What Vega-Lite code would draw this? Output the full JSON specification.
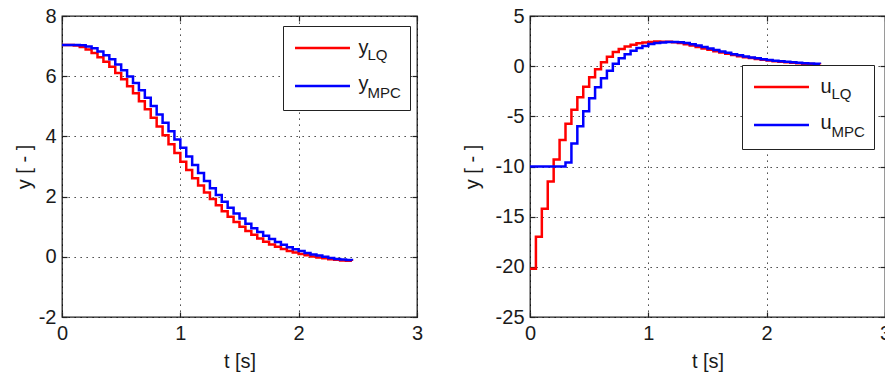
{
"$schema":"https://vega.github.io/schema/vega-lite/v6.json",
"background":"white",
"padding":{"left":13,"top":5,"right":0,"bottom":0},
"config":{
"font":"Liberation Sans",
"view":{"stroke":"#222","strokeWidth":1.3},
"axis":{"labelFont":"Liberation Sans","labelFontSize":20,"labelColor":"#1a1a1a","titleFont":"Liberation Sans","titleFontSize":20,"titleFontWeight":"normal","titleColor":"#1a1a1a","grid":true,"gridColor":"#000","gridDash":[1.3,4.7],"gridWidth":1,"gridOpacity":0.85,"domain":false,"ticks":true,"tickColor":"#222","tickWidth":1.2,"tickSize":-5,"labelFlush":false,"labelOverlap":false,"labelExpr":"'' + datum.value"},
"legend":{"labelFont":"Liberation Sans","labelColor":"#1a1a1a"}
},
"datasets":{"d":[
{"p":"y","s":"LQ","t":0,"v":7.04},{"p":"y","s":"LQ","t":0.05,"v":7.04},{"p":"y","s":"LQ","t":0.1,"v":7.02},{"p":"y","s":"LQ","t":0.15,"v":6.97},{"p":"y","s":"LQ","t":0.2,"v":6.89},{"p":"y","s":"LQ","t":0.25,"v":6.77},{"p":"y","s":"LQ","t":0.3,"v":6.63},{"p":"y","s":"LQ","t":0.35,"v":6.48},{"p":"y","s":"LQ","t":0.4,"v":6.31},{"p":"y","s":"LQ","t":0.45,"v":6.11},{"p":"y","s":"LQ","t":0.5,"v":5.9},{"p":"y","s":"LQ","t":0.55,"v":5.67},{"p":"y","s":"LQ","t":0.6,"v":5.43},{"p":"y","s":"LQ","t":0.65,"v":5.17},{"p":"y","s":"LQ","t":0.7,"v":4.9},{"p":"y","s":"LQ","t":0.75,"v":4.62},{"p":"y","s":"LQ","t":0.8,"v":4.33},{"p":"y","s":"LQ","t":0.85,"v":4.04},{"p":"y","s":"LQ","t":0.9,"v":3.74},{"p":"y","s":"LQ","t":0.95,"v":3.45},{"p":"y","s":"LQ","t":1,"v":3.16},{"p":"y","s":"LQ","t":1.05,"v":2.88},{"p":"y","s":"LQ","t":1.1,"v":2.61},{"p":"y","s":"LQ","t":1.15,"v":2.37},{"p":"y","s":"LQ","t":1.2,"v":2.14},{"p":"y","s":"LQ","t":1.25,"v":1.92},{"p":"y","s":"LQ","t":1.3,"v":1.71},{"p":"y","s":"LQ","t":1.35,"v":1.51},{"p":"y","s":"LQ","t":1.4,"v":1.33},{"p":"y","s":"LQ","t":1.45,"v":1.16},{"p":"y","s":"LQ","t":1.5,"v":1.0},{"p":"y","s":"LQ","t":1.55,"v":0.86},{"p":"y","s":"LQ","t":1.6,"v":0.73},{"p":"y","s":"LQ","t":1.65,"v":0.61},{"p":"y","s":"LQ","t":1.7,"v":0.5},{"p":"y","s":"LQ","t":1.75,"v":0.41},{"p":"y","s":"LQ","t":1.8,"v":0.33},{"p":"y","s":"LQ","t":1.85,"v":0.26},{"p":"y","s":"LQ","t":1.9,"v":0.19},{"p":"y","s":"LQ","t":1.95,"v":0.14},{"p":"y","s":"LQ","t":2,"v":0.09},{"p":"y","s":"LQ","t":2.05,"v":0.05},{"p":"y","s":"LQ","t":2.1,"v":0.01},{"p":"y","s":"LQ","t":2.15,"v":-0.02},{"p":"y","s":"LQ","t":2.2,"v":-0.05},{"p":"y","s":"LQ","t":2.25,"v":-0.08},{"p":"y","s":"LQ","t":2.3,"v":-0.1},{"p":"y","s":"LQ","t":2.35,"v":-0.12},{"p":"y","s":"LQ","t":2.4,"v":-0.13},{"p":"y","s":"LQ","t":2.45,"v":-0.14},
{"p":"y","s":"MPC","t":0,"v":7.04},{"p":"y","s":"MPC","t":0.05,"v":7.04},{"p":"y","s":"MPC","t":0.1,"v":7.04},{"p":"y","s":"MPC","t":0.15,"v":7.03},{"p":"y","s":"MPC","t":0.2,"v":6.99},{"p":"y","s":"MPC","t":0.25,"v":6.93},{"p":"y","s":"MPC","t":0.3,"v":6.82},{"p":"y","s":"MPC","t":0.35,"v":6.7},{"p":"y","s":"MPC","t":0.4,"v":6.56},{"p":"y","s":"MPC","t":0.45,"v":6.39},{"p":"y","s":"MPC","t":0.5,"v":6.2},{"p":"y","s":"MPC","t":0.55,"v":5.99},{"p":"y","s":"MPC","t":0.6,"v":5.77},{"p":"y","s":"MPC","t":0.65,"v":5.53},{"p":"y","s":"MPC","t":0.7,"v":5.28},{"p":"y","s":"MPC","t":0.75,"v":5.01},{"p":"y","s":"MPC","t":0.8,"v":4.73},{"p":"y","s":"MPC","t":0.85,"v":4.45},{"p":"y","s":"MPC","t":0.9,"v":4.17},{"p":"y","s":"MPC","t":0.95,"v":3.9},{"p":"y","s":"MPC","t":1,"v":3.62},{"p":"y","s":"MPC","t":1.05,"v":3.33},{"p":"y","s":"MPC","t":1.1,"v":3.05},{"p":"y","s":"MPC","t":1.15,"v":2.78},{"p":"y","s":"MPC","t":1.2,"v":2.52},{"p":"y","s":"MPC","t":1.25,"v":2.28},{"p":"y","s":"MPC","t":1.3,"v":2.05},{"p":"y","s":"MPC","t":1.35,"v":1.83},{"p":"y","s":"MPC","t":1.4,"v":1.63},{"p":"y","s":"MPC","t":1.45,"v":1.44},{"p":"y","s":"MPC","t":1.5,"v":1.27},{"p":"y","s":"MPC","t":1.55,"v":1.1},{"p":"y","s":"MPC","t":1.6,"v":0.95},{"p":"y","s":"MPC","t":1.65,"v":0.82},{"p":"y","s":"MPC","t":1.7,"v":0.7},{"p":"y","s":"MPC","t":1.75,"v":0.59},{"p":"y","s":"MPC","t":1.8,"v":0.49},{"p":"y","s":"MPC","t":1.85,"v":0.4},{"p":"y","s":"MPC","t":1.9,"v":0.32},{"p":"y","s":"MPC","t":1.95,"v":0.25},{"p":"y","s":"MPC","t":2,"v":0.19},{"p":"y","s":"MPC","t":2.05,"v":0.13},{"p":"y","s":"MPC","t":2.1,"v":0.08},{"p":"y","s":"MPC","t":2.15,"v":0.04},{"p":"y","s":"MPC","t":2.2,"v":0.0},{"p":"y","s":"MPC","t":2.25,"v":-0.04},{"p":"y","s":"MPC","t":2.3,"v":-0.07},{"p":"y","s":"MPC","t":2.35,"v":-0.09},{"p":"y","s":"MPC","t":2.4,"v":-0.11},{"p":"y","s":"MPC","t":2.45,"v":-0.12},
{"p":"u","s":"LQ","t":0,"v":-20.2},{"p":"u","s":"LQ","t":0.05,"v":-17.0},{"p":"u","s":"LQ","t":0.1,"v":-14.2},{"p":"u","s":"LQ","t":0.15,"v":-11.5},{"p":"u","s":"LQ","t":0.2,"v":-9.3},{"p":"u","s":"LQ","t":0.25,"v":-7.35},{"p":"u","s":"LQ","t":0.3,"v":-5.75},{"p":"u","s":"LQ","t":0.35,"v":-4.35},{"p":"u","s":"LQ","t":0.4,"v":-3.1},{"p":"u","s":"LQ","t":0.45,"v":-2.05},{"p":"u","s":"LQ","t":0.5,"v":-1.1},{"p":"u","s":"LQ","t":0.55,"v":-0.3},{"p":"u","s":"LQ","t":0.6,"v":0.4},{"p":"u","s":"LQ","t":0.65,"v":0.95},{"p":"u","s":"LQ","t":0.7,"v":1.4},{"p":"u","s":"LQ","t":0.75,"v":1.72},{"p":"u","s":"LQ","t":0.8,"v":1.97},{"p":"u","s":"LQ","t":0.85,"v":2.14},{"p":"u","s":"LQ","t":0.9,"v":2.28},{"p":"u","s":"LQ","t":0.95,"v":2.37},{"p":"u","s":"LQ","t":1,"v":2.42},{"p":"u","s":"LQ","t":1.05,"v":2.45},{"p":"u","s":"LQ","t":1.1,"v":2.44},{"p":"u","s":"LQ","t":1.15,"v":2.43},{"p":"u","s":"LQ","t":1.2,"v":2.38},{"p":"u","s":"LQ","t":1.25,"v":2.3},{"p":"u","s":"LQ","t":1.3,"v":2.19},{"p":"u","s":"LQ","t":1.35,"v":2.06},{"p":"u","s":"LQ","t":1.4,"v":1.92},{"p":"u","s":"LQ","t":1.45,"v":1.77},{"p":"u","s":"LQ","t":1.5,"v":1.63},{"p":"u","s":"LQ","t":1.55,"v":1.49},{"p":"u","s":"LQ","t":1.6,"v":1.36},{"p":"u","s":"LQ","t":1.65,"v":1.23},{"p":"u","s":"LQ","t":1.7,"v":1.11},{"p":"u","s":"LQ","t":1.75,"v":1.0},{"p":"u","s":"LQ","t":1.8,"v":0.9},{"p":"u","s":"LQ","t":1.85,"v":0.81},{"p":"u","s":"LQ","t":1.9,"v":0.72},{"p":"u","s":"LQ","t":1.95,"v":0.64},{"p":"u","s":"LQ","t":2,"v":0.57},{"p":"u","s":"LQ","t":2.05,"v":0.5},{"p":"u","s":"LQ","t":2.1,"v":0.44},{"p":"u","s":"LQ","t":2.15,"v":0.38},{"p":"u","s":"LQ","t":2.2,"v":0.33},{"p":"u","s":"LQ","t":2.25,"v":0.29},{"p":"u","s":"LQ","t":2.3,"v":0.25},{"p":"u","s":"LQ","t":2.35,"v":0.22},{"p":"u","s":"LQ","t":2.4,"v":0.19},{"p":"u","s":"LQ","t":2.45,"v":0.17},
{"p":"u","s":"MPC","t":0,"v":-10},{"p":"u","s":"MPC","t":0.05,"v":-10},{"p":"u","s":"MPC","t":0.1,"v":-10},{"p":"u","s":"MPC","t":0.15,"v":-10},{"p":"u","s":"MPC","t":0.2,"v":-10},{"p":"u","s":"MPC","t":0.25,"v":-10},{"p":"u","s":"MPC","t":0.3,"v":-9.6},{"p":"u","s":"MPC","t":0.35,"v":-7.7},{"p":"u","s":"MPC","t":0.4,"v":-6.0},{"p":"u","s":"MPC","t":0.45,"v":-4.5},{"p":"u","s":"MPC","t":0.5,"v":-3.2},{"p":"u","s":"MPC","t":0.55,"v":-2.1},{"p":"u","s":"MPC","t":0.6,"v":-1.2},{"p":"u","s":"MPC","t":0.65,"v":-0.45},{"p":"u","s":"MPC","t":0.7,"v":0.25},{"p":"u","s":"MPC","t":0.75,"v":0.78},{"p":"u","s":"MPC","t":0.8,"v":1.2},{"p":"u","s":"MPC","t":0.85,"v":1.54},{"p":"u","s":"MPC","t":0.9,"v":1.8},{"p":"u","s":"MPC","t":0.95,"v":2.02},{"p":"u","s":"MPC","t":1,"v":2.2},{"p":"u","s":"MPC","t":1.05,"v":2.31},{"p":"u","s":"MPC","t":1.1,"v":2.37},{"p":"u","s":"MPC","t":1.15,"v":2.41},{"p":"u","s":"MPC","t":1.2,"v":2.42},{"p":"u","s":"MPC","t":1.25,"v":2.38},{"p":"u","s":"MPC","t":1.3,"v":2.3},{"p":"u","s":"MPC","t":1.35,"v":2.19},{"p":"u","s":"MPC","t":1.4,"v":2.05},{"p":"u","s":"MPC","t":1.45,"v":1.9},{"p":"u","s":"MPC","t":1.5,"v":1.75},{"p":"u","s":"MPC","t":1.55,"v":1.6},{"p":"u","s":"MPC","t":1.6,"v":1.46},{"p":"u","s":"MPC","t":1.65,"v":1.33},{"p":"u","s":"MPC","t":1.7,"v":1.2},{"p":"u","s":"MPC","t":1.75,"v":1.08},{"p":"u","s":"MPC","t":1.8,"v":0.97},{"p":"u","s":"MPC","t":1.85,"v":0.87},{"p":"u","s":"MPC","t":1.9,"v":0.78},{"p":"u","s":"MPC","t":1.95,"v":0.7},{"p":"u","s":"MPC","t":2,"v":0.62},{"p":"u","s":"MPC","t":2.05,"v":0.55},{"p":"u","s":"MPC","t":2.1,"v":0.49},{"p":"u","s":"MPC","t":2.15,"v":0.43},{"p":"u","s":"MPC","t":2.2,"v":0.38},{"p":"u","s":"MPC","t":2.25,"v":0.34},{"p":"u","s":"MPC","t":2.3,"v":0.3},{"p":"u","s":"MPC","t":2.35,"v":0.27},{"p":"u","s":"MPC","t":2.4,"v":0.25},{"p":"u","s":"MPC","t":2.45,"v":0.23}
]},
"spacing":113,
"bounds":"flush",
"resolve":{"scale":{"x":"independent","y":"independent","color":"independent","opacity":"independent"},"legend":{"color":"independent","opacity":"independent"}},
"hconcat":[
{"width":355,"height":301,
"data":{"name":"d"},
"transform":[{"filter":"datum.p === 'y'"}],
"resolve":{"axis":{"x":"independent","y":"independent"}},
"layer":[
{"mark":{"type":"line","interpolate":"step-after","strokeWidth":2.5},
"encoding":{
"x":{"field":"t","type":"quantitative","scale":{"domain":[0,3],"nice":false},"axis":{"values":[0,1,2,3],"title":"t [s]","labelPadding":11,"titlePadding":8}},
"y":{"field":"v","type":"quantitative","scale":{"domain":[-2,8],"nice":false,"zero":false},"axis":{"values":[-2,0,2,4,6,8],"title":"y [ - ]","labelPadding":11,"titlePadding":4}},
"color":{"field":"s","type":"nominal","scale":{"domain":["LQ","MPC"],"range":["#ff0000","#0000ff"]},
 "legend":{"orient":"none","legendX":221,"legendY":10,"title":null,"fillColor":"white","strokeColor":"#222","padding":9,"symbolType":"M-2.34,0H2.34","symbolSize":552,"symbolStrokeWidth":2.5,"symbolOffset":17.5,"labelFontSize":15,"labelBaseline":"top","labelOffset":32,"rowPadding":10,"zindex":0}},
"opacity":{"field":"s","type":"ordinal","scale":{"range":[1,1]},
 "legend":{"orient":"none","legendX":221,"legendY":10,"title":null,"padding":9,"symbolType":"M-2.34,0H2.34","symbolSize":552,"symbolStrokeWidth":2.5,"symbolOffset":17.5,"symbolStrokeColor":"transparent","symbolFillColor":"transparent","symbolOpacity":0,"labelFontSize":20,"labelBaseline":"middle","labelOffset":23,"labelExpr":"'y'","rowPadding":13,"zindex":1,"encode":{"symbols":{"update":{"opacity":{"value":0},"stroke":{"value":"transparent"}}}}}}
}},
{"mark":{"type":"line","interpolate":"step-after","strokeOpacity":0},
"encoding":{
"x":{"field":"t","type":"quantitative","axis":{"values":[0,1,2,3],"labels":false,"title":null,"grid":false}},
"y":{"field":"v","type":"quantitative","axis":{"values":[-2,0,2,4,6,8],"labels":false,"title":null,"grid":false}}
}}
]},
{"width":355,"height":301,
"data":{"name":"d"},
"transform":[{"filter":"datum.p === 'u'"}],
"resolve":{"axis":{"x":"independent","y":"independent"}},
"layer":[
{"mark":{"type":"line","interpolate":"step-after","strokeWidth":2.5},
"encoding":{
"x":{"field":"t","type":"quantitative","scale":{"domain":[0,3],"nice":false},"axis":{"values":[0,1,2,3],"title":"t [s]","labelPadding":11,"titlePadding":8}},
"y":{"field":"v","type":"quantitative","scale":{"domain":[-25,5],"nice":false,"zero":false},"axis":{"values":[-25,-20,-15,-10,-5,0,5],"title":"y [ - ]","labelPadding":11,"titlePadding":13}},
"color":{"field":"s","type":"nominal","scale":{"domain":["LQ","MPC"],"range":["#ff0000","#0000ff"]},
 "legend":{"orient":"none","legendX":212,"legendY":49,"title":null,"fillColor":"white","strokeColor":"#222","padding":9,"symbolType":"M-2.34,0H2.34","symbolSize":552,"symbolStrokeWidth":2.5,"symbolOffset":17.5,"labelFontSize":15,"labelBaseline":"top","labelOffset":37,"rowPadding":10,"zindex":0}},
"opacity":{"field":"s","type":"ordinal","scale":{"range":[1,1]},
 "legend":{"orient":"none","legendX":212,"legendY":49,"title":null,"padding":9,"symbolType":"M-2.34,0H2.34","symbolSize":552,"symbolStrokeWidth":2.5,"symbolOffset":17.5,"symbolStrokeColor":"transparent","symbolFillColor":"transparent","symbolOpacity":0,"labelFontSize":20,"labelBaseline":"middle","labelOffset":26,"labelExpr":"'u'","rowPadding":13,"zindex":1,"encode":{"symbols":{"update":{"opacity":{"value":0},"stroke":{"value":"transparent"}}}}}}
}},
{"mark":{"type":"line","interpolate":"step-after","strokeOpacity":0},
"encoding":{
"x":{"field":"t","type":"quantitative","axis":{"values":[0,1,2,3],"labels":false,"title":null,"grid":false}},
"y":{"field":"v","type":"quantitative","axis":{"values":[-25,-20,-15,-10,-5,0,5],"labels":false,"title":null,"grid":false}}
}}
]}
]
}
